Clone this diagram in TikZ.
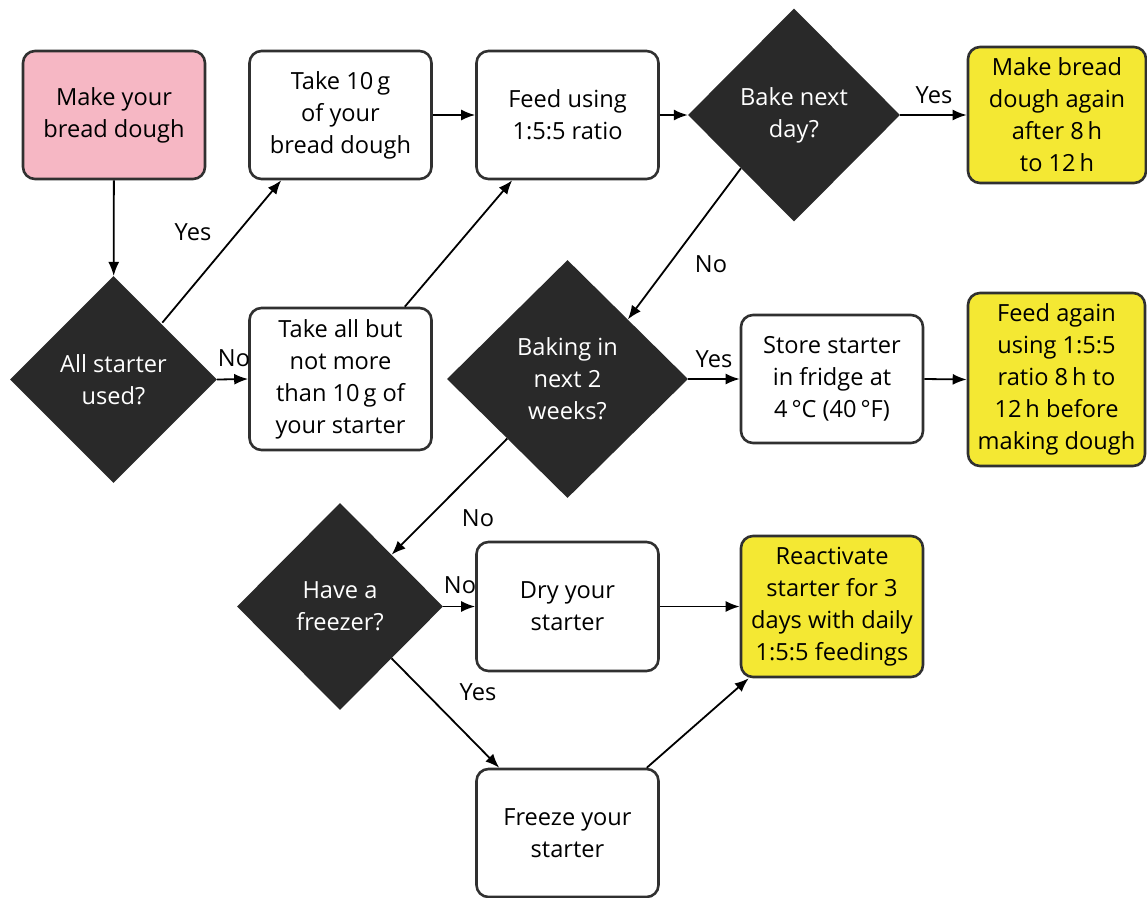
\documentclass[tikz,border=0pt]{standalone}
\usepackage{fontspec}
\setmainfont{Open Sans}
\usetikzlibrary{shapes.geometric,arrows.meta,calc}
\definecolor{pinkfill}{HTML}{F6B7C4}
\definecolor{yellowfill}{HTML}{F4E833}
\definecolor{diafill}{HTML}{292929}
\definecolor{boxline}{HTML}{303030}
\begin{document}
\begin{tikzpicture}[x=1pt,y=-1pt,
  box/.style={draw=boxline, fill=white, line width=2.6pt, rounded corners=12pt, align=center,
    font=\fontsize{23.6}{32}\selectfont, inner sep=0pt, minimum width=182pt, minimum height=128pt},
  dia/.style={diamond, fill=diafill, text=white, align=center, inner sep=0pt,
    font=\fontsize{23.6}{32}\selectfont},
  conn/.style={line width=1.8pt, -{Latex[length=14pt,width=11pt]}},
  lab/.style={font=\fontsize{23.6}{27}\selectfont, inner sep=0pt}
]
\useasboundingbox (0,0) rectangle (1147,897);

% boxes
\node[box, fill=pinkfill] (make) at (114,115) {Make your\\bread dough};
\node[box] (take) at (340.5,115) {Take 10\,g\\of your\\bread dough};
\node[box] (feed) at (567.5,115) {Feed using\\1:5:5 ratio};
\node[box, fill=yellowfill, minimum width=178pt, minimum height=136pt] (again) at (1057,115) {Make bread\\dough again\\after 8\,h\\to 12\,h};
\node[box, minimum height=142pt] (takeall) at (340.5,379) {Take all but\\not more\\than 10\,g of\\your starter};
\node[box] (store) at (832,379) {Store starter\\in fridge at\\4\,°C (40\,°F)};
\node[box, fill=yellowfill, minimum width=177pt, minimum height=173pt] (feedagain) at (1056.5,379.5) {Feed again\\using 1:5:5\\ratio 8\,h to\\12\,h before\\making dough};
\node[box, minimum height=129pt] (dry) at (567.5,606.5) {Dry your\\starter};
\node[box, fill=yellowfill, minimum height=141pt] (react) at (832,606.5) {Reactivate\\starter for 3\\days with daily\\1:5:5 feedings};
\node[box] (freeze) at (567.5,833) {Freeze your\\starter};

% diamonds
\node[dia, minimum width=207pt, minimum height=207pt] (alls) at (113.5,379.5) {All starter\\used?};
\node[dia, minimum width=212pt, minimum height=213pt] (bake) at (794,115) {Bake next\\day?};
\node[dia, minimum width=241pt, minimum height=238pt] (baking) at (567.5,379) {Baking in\\next 2\\weeks?};
\node[dia, minimum width=206pt, minimum height=207pt] (freezer) at (340,606.5) {Have a\\freezer?};

% connectors
\draw[conn] (make) -- (alls);
\draw[conn] ([xshift=-3pt,yshift=5pt]alls.north east) -- ([xshift=33pt]take.south west);
\draw[conn] (alls.east) -- (takeall.west);
\draw[conn] (take.east) -- (feed.west);
\draw[conn] ([xshift=-28pt]takeall.north east) -- ([xshift=37pt]feed.south west);
\draw[conn] (feed.east) -- (bake.west);
\draw[conn] (bake.east) -- (again.west);
\draw[conn] (bake.south west) -- (baking.north east);
\draw[conn] (baking.east) -- (store.west);
\draw[conn] (store.east) -- (feedagain.west);
\draw[conn] (baking.south west) -- (freezer.north east);
\draw[conn] (freezer.east) -- (dry.west);
\draw[conn] (freezer.south east) -- ([xshift=24pt]freeze.north west);
\draw[conn] (dry.east) -- (react.west);
\draw[conn] ([xshift=-13pt]freeze.north east) -- ([xshift=9pt]react.south west);

% labels
\node[lab] (l1) at (193,232) {Yes};
\node[lab] (l2) at (234,358) {No};
\node[lab] (l3) at (934,95) {Yes};
\node[lab] (l4) at (711,264) {No};
\node[lab] (l5) at (714,359) {Yes};
\node[lab] (l6) at (478,518) {No};
\node[lab] (l7) at (460,585) {No};
\node[lab] (l8) at (478,692) {Yes};
\end{tikzpicture}
\end{document}
